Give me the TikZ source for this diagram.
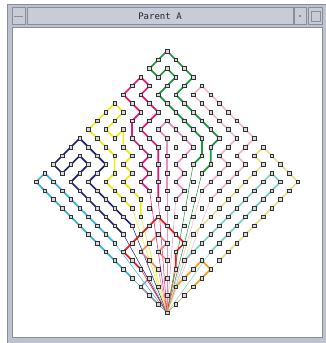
\documentclass[tikz,border=0pt]{standalone}
\usepackage{fontspec}
\newfontfamily\titlefont{DejaVu Sans Mono}
\definecolor{cyanc}{HTML}{3CB4D8}
\definecolor{navyc}{HTML}{1E1E84}
\definecolor{yelc}{HTML}{EEEA10}
\definecolor{magc}{HTML}{E8157E}
\definecolor{orcc}{HTML}{EE8CC4}
\definecolor{grnc}{HTML}{169A3A}
\definecolor{lpkc}{HTML}{F6B4C6}
\definecolor{pyc}{HTML}{E6E08C}
\definecolor{tealc}{HTML}{78D2C6}
\definecolor{redc}{HTML}{F01C1C}
\definecolor{salc}{HTML}{F08A80}
\definecolor{grayc}{HTML}{9A9AB4}
\definecolor{orac}{HTML}{F4A020}
\definecolor{framec}{HTML}{BEC2CE}
\definecolor{barc}{HTML}{C8CCD8}
\definecolor{edgec}{HTML}{8A8E9C}
\begin{document}
\begin{tikzpicture}[x=1pt,y=-1pt,
  latpt/.style={rectangle,draw=black!80,fill=gray!30,line width=0.55pt,minimum size=3.6pt,inner sep=0pt},
  leg/.style={line width=1.7pt,line join=round,line cap=round},
  ray/.style={line width=0.5pt},
  btn/.style={draw=edgec,fill=barc,line width=0.5pt}]
\useasboundingbox (0,0) rectangle (326,343);
\fill[white] (0,0) rectangle (326,343);
% window frame
\fill[framec] (7,4) rectangle (326,343);
\draw[edgec,line width=0.5pt] (7,4) rectangle (326,343);
\node[btn,minimum width=13pt,minimum height=17pt,inner sep=0pt] (lbtn) at (18.5,16) {};
\draw[edgec,line width=0.8pt] (14,16) -- (23,16);
\node[btn,minimum width=266pt,minimum height=17pt,inner sep=0pt] (bar) at (160,16) {};
\node[btn,minimum width=12pt,minimum height=17pt,inner sep=0pt] (sbtn) at (300,16) {};
\fill[edgec] (299.3,15.3) rectangle (300.7,16.7);
\node[btn,minimum width=14pt,minimum height=17pt,inner sep=0pt] (rbtn) at (315.5,16) {};
\node[draw=edgec,line width=0.5pt,minimum width=9pt,minimum height=10pt,inner sep=0pt] (rsq) at (315.5,16) {};
\node[font=\titlefont\fontsize{9}{10}\selectfont,text=black!85] (title) at (160,16) {Parent A};
\fill[white] (12,27) rectangle (322,337);
\draw[edgec,line width=0.4pt] (12,27) rectangle (322,337);
% lattice
\begin{scope}[shift={(167pt,-51pt)},x=8.73pt,y=-8.73pt]
\coordinate (apex) at (0,30);
% rays to apex
\foreach \c/\p in {cyanc/{-4,26},cyanc/{-6,22},navyc/{-5,21},navyc/{-4,20},yelc/{-4,18},yelc/{-3,19},
  magc/{-2,16},magc/{-1,17},orcc/{0,16},orcc/{1,17},grnc/{3,13},grnc/{4,14},lpkc/{4,16},lpkc/{5,17},
  pyc/{3,21},pyc/{6,24},tealc/{2,24},tealc/{5,23},redc/{-3,25},redc/{1,25},salc/{-1,25},salc/{0,24},
  grayc/{-2,26},orac/{1,27},orac/{3,27}}
  {\draw[ray,\c] (\p) -- (apex);}
% chains
\draw[leg,cyanc] (-4,26) -- (-15,15) -- (-14,14) -- (-6,22);
\draw[leg,navyc] (-5,21) -- (-11,15) -- (-9,13) -- (-10,12) -- (-12,14) -- (-13,13) -- (-10,10) -- (-7,13) -- (-9,15) -- (-4,20);
\draw[leg,yelc] (-4,18) -- (-7,15) -- (-6,14) -- (-6,12) -- (-9,9) -- (-6,6) -- (-5,7) -- (-6,8) -- (-7,9) -- (-6,10) -- (-5,9) -- (-5,11) -- (-4,12) -- (-5,13) -- (-4,14) -- (-5,15) -- (-3,17) -- (-3,19);
\draw[leg,magc] (-2,16) -- (-3,15) -- (-2,14) -- (-3,13) -- (-2,12) -- (-4,10) -- (-4,8) -- (-3,7) -- (-5,5) -- (-3,3) -- (-2,4) -- (-3,5) -- (-1,7) -- (-2,8) -- (-3,9) -- (-1,11) -- (-1,17);
\draw[leg,orcc] (0,16) -- (0,10) -- (-1,9) -- (0,8) -- (3,11) -- (1,13) -- (2,14) -- (1,15) -- (2,16) -- (1,17);
\draw[leg,grnc] (3,13) -- (4,12) -- (4,10) -- (-1,5) -- (0,4) -- (1,3) -- (0,2) -- (-1,3) -- (-2,2) -- (0,0) -- (3,3) -- (1,5) -- (6,10) -- (5,11) -- (5,13) -- (4,14);
\draw[leg,lpkc] (5,17) -- (9,13) -- (8,12) -- (10,10) -- (4,4) -- (3,5) -- (4,6) -- (8,10) -- (6,12) -- (7,13) -- (4,16);
\draw[leg,pyc] (6,24) -- (15,15) -- (11,11) -- (10,12) -- (11,13) -- (3,21);
\draw[leg,tealc] (5,23) -- (13,15) -- (12,14) -- (11,15) -- (2,24);
\draw[leg,redc] (-3,25) -- (-5,23) -- (-1,19) -- (2,22) -- (1,23) -- (1,25);
\draw[leg,salc] (-1,25) -- (-3,23) -- (-1,21) -- (0,22) -- (-1,23) -- (0,24);
\draw[leg,grayc] (-2,26) -- (-3,27) -- (-1,29);
\draw[leg,orac] (1,27) -- (4,24) -- (5,25) -- (3,27);
% lattice points
\foreach \i in {0,...,15}{\foreach \j in {0,...,15}{
  \node[latpt] (p-\i-\j) at ({\i-\j},{\i+\j}) {};}}
\end{scope}
\end{tikzpicture}
\end{document}
